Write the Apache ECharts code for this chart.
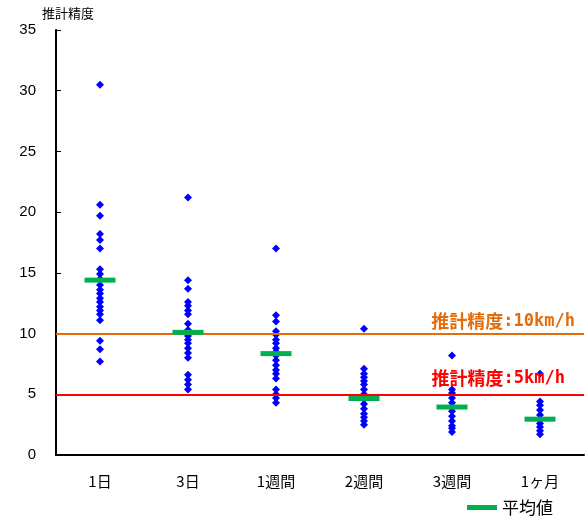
<!DOCTYPE html>
<html><head><meta charset="utf-8">
<script src="https://cdn.jsdelivr.net/npm/echarts@6/dist/echarts.min.js"></script>
<style>html,body{margin:0;padding:0;background:#fff}#c{width:586px;height:523px}</style>
</head><body><div id="c"></div>
<script>
var categories = ['1日', '3日', '1週間', '2週間', '3週間', '1ヶ月'];
var d1 = [30.5, 20.6, 19.7, 18.2, 17.7, 17.0, 15.3, 14.9, 14.5, 14.0, 13.6, 13.3, 12.9, 12.6, 12.2, 11.9, 11.6, 11.1, 9.4, 8.7, 7.7];
var d3 = [21.2, 14.4, 13.7, 12.6, 12.3, 11.9, 11.6, 10.8, 10.3, 9.8, 9.5, 9.2, 8.8, 8.4, 8.0, 6.6, 6.2, 5.8, 5.4];
var d1w = [17.0, 11.5, 11.0, 10.2, 9.9, 9.5, 9.2, 8.8, 8.5, 8.2, 7.8, 7.4, 7.0, 6.7, 6.3, 5.4, 5.0, 4.7, 4.3];
var d2w = [10.4, 7.1, 6.7, 6.4, 6.1, 5.8, 5.4, 5.0, 4.6, 4.2, 3.8, 3.4, 3.1, 2.8, 2.5];
var d3w = [8.2, 5.4, 5.1, 4.7, 4.3, 3.9, 3.6, 3.2, 2.8, 2.4, 2.2, 1.9];
var d1m = [6.7, 4.4, 4.1, 3.7, 3.3, 2.9, 2.6, 2.3, 2.0, 1.7];
var means = [14.4, 10.1, 8.35, 4.65, 3.95, 2.95];
var yTicks = [0, 5, 10, 15, 20, 25, 30, 35];
var refLines = [10, 5];

var groups = [d1, d3, d1w, d2w, d3w, d1m];
var pts = [];
groups.forEach(function (g, i) { g.forEach(function (v) { pts.push([i, v]); }); });
var meanPts = means.map(function (v, i) { return [i, v]; });

var FONT = 'Liberation Sans, Arial, Noto Sans CJK JP, sans-serif';
function richFor(color) {
  return {
    a: { color: color, fontSize: 18, fontWeight: 'bold', fontFamily: 'Noto Sans CJK JP' },
    b: { color: color, fontSize: 17, fontWeight: 'bold', fontFamily: 'DejaVu Sans Mono' }
  };
}
var chart = echarts.init(document.getElementById('c'));
chart.setOption({
  animation: false,
  textStyle: { fontFamily: FONT },
  grid: { left: 56, right: 2, top: 30, bottom: 68 },
  legend: {
    right: 28, bottom: 2, itemWidth: 30, itemHeight: 5, itemGap: 10,
    data: [{ name: '平均値', icon: 'rect', itemStyle: { opacity: 1 } }],
    textStyle: { fontSize: 17, color: '#000', fontFamily: 'Noto Sans CJK JP' }
  },
  xAxis: {
    type: 'category', data: categories, boundaryGap: true,
    axisLine: { lineStyle: { color: '#000', width: 2 } },
    axisTick: { inside: true, length: 5, lineStyle: { color: '#555' } },
    axisLabel: { margin: 19, fontSize: 15, color: '#000', fontFamily: 'Noto Sans CJK JP' },
    splitLine: { show: false }
  },
  yAxis: {
    type: 'value', min: 0, max: 35, interval: 5,
    name: '推計精度', nameLocation: 'end', nameGap: 10,
    nameTextStyle: { fontSize: 13, color: '#000', fontFamily: 'Noto Sans CJK JP', align: 'left', padding: [0, 0, 0, -14] },
    axisLine: { show: true, lineStyle: { color: '#000', width: 2 } },
    axisTick: { show: true, inside: true, length: 5, lineStyle: { color: '#000' } },
    axisLabel: { margin: 20, fontSize: 15, color: '#000', formatter: function (v) { return yTicks.indexOf(v) >= 0 ? String(v) : ''; } },
    splitLine: { show: false }
  },
  series: [
    {
      name: '推計値', type: 'scatter', data: pts, symbol: 'diamond', symbolSize: 8,
      itemStyle: { color: '#0000ff', opacity: 1 }, z: 3,
      markLine: {
        silent: true, symbol: 'none',
        data: [
          { yAxis: refLines[0], lineStyle: { color: '#e46c0a', width: 2, type: 'solid' },
            label: { show: true, position: 'insideEndTop', formatter: '{a|推計精度}{b|:10km/h}', rich: richFor('#e46c0a'), distance: [9, 3] } },
          { yAxis: refLines[1], lineStyle: { color: '#ff0000', width: 2, type: 'solid' },
            label: { show: true, position: 'insideEndTop', formatter: '{a|推計精度}{b|:5km/h}', rich: richFor('#ff0000'), distance: [19, 7] } }
        ]
      }
    },
    {
      name: '平均値', type: 'scatter', data: meanPts, symbol: 'rect', symbolSize: [31, 5],
      itemStyle: { color: '#00b050', opacity: 1 }, z: 5
    }
  ]
});
</script></body></html>
